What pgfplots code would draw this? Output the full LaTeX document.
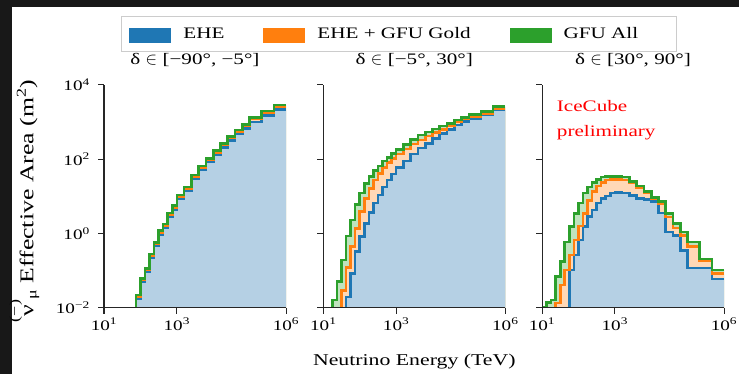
\documentclass[border=0pt]{standalone}
\usepackage{amsmath}
\usepackage{fontspec}
\setmainfont{Liberation Serif}[FakeStretch=1.32]
\usepackage{pgfplots}
\usepackage{pgfplotstable}
\pgfplotsset{compat=1.18}

\definecolor{c0}{RGB}{31,119,180}
\definecolor{c1}{RGB}{255,127,14}
\definecolor{c2}{RGB}{44,160,44}
\definecolor{f0}{RGB}{181,208,228}
\definecolor{f1}{RGB}{255,216,182}
\definecolor{f2}{RGB}{192,227,190}
\definecolor{darkbg}{RGB}{24,24,24}

% Each table: first row closes the filled area at the bottom right,
% second row starts the step at the bottom, then one row per bin (left edge, value),
% last row repeats the last value at 10^6.

% Panel 1: dec in [-90,-5]
\pgfplotstableread{
x y
1000000 0.0001
74.99 0.0001
74.99 0.0224
100 0.0631
133.4 0.117
177.8 0.282
237.1 0.589
316.2 1.20
421.7 1.82
562.3 3.63
749.9 5.62
1000 11.0
1585 18.2
2512 38.0
3981 66.1
6310 107
10000 170
15849 269
25119 407
39811 617
63096 871
100000 1318
215443 1995
464159 2884
1000000 2884
}\tabGa
\pgfplotstableread{
x y
1000000 0.0001
74.99 0.0001
74.99 0.0204
100 0.0575
133.4 0.107
177.8 0.257
237.1 0.537
316.2 1.09
421.7 1.66
562.3 3.31
749.9 5.13
1000 10.0
1585 16.6
2512 34.7
3981 60.3
6310 97.7
10000 155
15849 245
25119 371
39811 562
63096 794
100000 1202
215443 1820
464159 2630
1000000 2630
}\tabOa
\pgfplotstableread{
x y
1000000 0.0001
74.99 0.0001
74.99 0.0178
100 0.0501
133.4 0.093
177.8 0.224
237.1 0.468
316.2 0.95
421.7 1.45
562.3 2.88
749.9 4.46
1000 8.7
1585 14.5
2512 30.2
3981 52.5
6310 85
10000 132
15849 209
25119 316
39811 479
63096 676
100000 1000
215443 1514
464159 2190
1000000 2190
}\tabBa

% Panel 2: dec in [-5,30]
\pgfplotstableread{
x y
1000000 0.0001
17.78 0.0001
17.78 0.0166
23.71 0.0513
31.62 0.195
42.17 0.871
56.23 2.34
74.99 6.03
100 12.3
133.4 22.4
177.8 33.9
237.1 50.1
316.2 66.1
421.7 91.2
562.3 112
749.9 145
1000 186
1585 251
2512 347
3981 447
6310 550
10000 661
15849 794
25119 933
39811 1148
63096 1349
100000 1585
215443 1905
464159 2630
1000000 2630
}\tabGb
\pgfplotstableread{
x y
1000000 0.0001
31.62 0.0001
31.62 0.0295
42.17 0.123
56.23 0.447
74.99 1.38
100 3.89
133.4 8.91
177.8 16.6
237.1 27.5
316.2 41.7
421.7 60.3
562.3 81.3
749.9 107
1000 138
1585 191
2512 257
3981 331
6310 427
10000 525
15849 646
25119 794
39811 1000
63096 1202
100000 1413
215443 1738
464159 2344
1000000 2344
}\tabOb
\pgfplotstableread{
x y
1000000 0.0001
42.17 0.0001
42.17 0.0200
56.23 0.0851
74.99 0.331
100 0.832
133.4 1.91
177.8 3.72
237.1 6.61
316.2 11.0
421.7 17.8
562.3 27.5
749.9 40.7
1000 60.3
1585 91.2
2512 138
3981 200
6310 269
10000 363
15849 501
25119 646
39811 832
63096 1023
100000 1259
215443 1622
464159 2138
1000000 2138
}\tabBb

% Panel 3: dec in [30,90]
\pgfplotstableread{
x y
1000000 0.0001
10 0.0001
10 0.0107
13.34 0.0141
17.78 0.0166
23.71 0.0692
31.62 0.178
42.17 0.603
56.23 1.55
74.99 3.55
100 6.61
133.4 12.3
177.8 18.2
237.1 24.0
316.2 28.8
421.7 33.1
562.3 33.9
749.9 33.9
1000 33.9
1585 33.1
2512 25.1
3981 19.1
6310 13.5
10000 9.55
15849 7.24
25119 3.55
39811 1.91
63096 1.12
100000 0.603
215443 0.209
464159 0.105
1000000 0.105
}\tabGc
\pgfplotstableread{
x y
1000000 0.0001
23.71 0.0001
23.71 0.0135
31.62 0.0417
42.17 0.105
56.23 0.269
74.99 0.676
100 1.62
133.4 3.55
177.8 7.76
237.1 13.5
316.2 19.1
421.7 24.0
562.3 27.5
749.9 28.8
1000 28.8
1585 27.5
2512 22.9
3981 17.4
6310 12.6
10000 8.91
15849 6.31
25119 2.82
39811 1.41
63096 0.891
100000 0.447
215443 0.191
464159 0.0832
1000000 0.0832
}\tabOc
\pgfplotstableread{
x y
1000000 0.0001
56.23 0.0001
56.23 0.105
74.99 0.269
100 0.676
133.4 1.55
177.8 2.88
237.1 4.37
316.2 6.61
421.7 8.91
562.3 10.2
749.9 12.3
1000 12.9
1585 12.3
2512 10.5
3981 8.91
6310 8.32
10000 7.24
15849 3.63
25119 1.12
39811 0.891
63096 0.355
100000 0.120
215443 0.120
464159 0.0603
1000000 0.0603
}\tabBc

\begin{document}
\begin{tikzpicture}
\fill[darkbg] (0pt,0pt) rectangle (12pt,374pt);
\fill[darkbg] (0pt,367pt) rectangle (739pt,374pt);
\path[use as bounding box] (0pt,0pt) rectangle (739pt,374pt);

% ---------- Panel 1 ----------
\begin{loglogaxis}[at={(104pt,66pt)}, anchor=south west,
  scale only axis, width=182pt, height=223pt,
  xmin=10, xmax=1000000, ymin=0.01, ymax=10000,
  axis on top, clip mode=individual,
  axis x line*=bottom, axis y line*=left,
  axis line style={line width=1pt, black!85},
  tick align=outside, major tick length=6pt,
  tick style={line width=1pt, black!85},
  xtick={10,1000,1000000}, xticklabels={,,},
  ytick={0.01,1,100,10000}, yticklabels={,,,},
  title style={at={(0.5,1)}, anchor=base, yshift=14pt, font=\fontsize{16}{18}\selectfont},
  title={δ $\in$ [−90°, −5°]},
  ylabel={$\overset{\text{(−)}}{\text{ν}}_{\text{μ}}$ Effective Area (m\textsuperscript{2})},
  ylabel style={at={(-0.388,0.48)}, anchor=base, font=\fontsize{19.5}{22}\selectfont},
  legend columns=3, legend cell align=left,
  legend image code/.code={\fill[#1] (0pt,-9pt) rectangle (42pt,6pt);},
  legend style={at={(0.0934,1.3094)}, anchor=north west, draw=black!20, line width=0.8pt,
    font=\fontsize{16}{18}\selectfont, inner xsep=8pt, inner ysep=9pt,
    /tikz/every odd column/.append style={column sep=10pt},
    /tikz/every even column/.append style={column sep=37pt}},
]
\addlegendimage{fill=c0, draw=none}
\addlegendentry{EHE}
\addlegendimage{fill=c1, draw=none}
\addlegendentry{EHE + GFU Gold}
\addlegendimage{fill=c2, draw=none}
\addlegendentry{GFU All\hspace*{28pt}}
\addplot[forget plot, draw=none, fill=f2, const plot mark left] table {\tabGa};
\addplot[forget plot, draw=none, fill=f1, const plot mark left] table {\tabOa};
\addplot[forget plot, draw=none, fill=f0, const plot mark left] table {\tabBa};
\addplot[forget plot, draw=c0, line width=2.6pt, const plot mark left, mark=none, skip coords between index={0}{1}] table {\tabBa};
\addplot[forget plot, draw=c1, line width=2.6pt, const plot mark left, mark=none, skip coords between index={0}{1}] table {\tabOa};
\addplot[forget plot, draw=c2, line width=2.6pt, const plot mark left, mark=none, skip coords between index={0}{1}] table {\tabGa};
% tick labels
\node[anchor=north, inner sep=0pt, font=\fontsize{14.5}{16}\selectfont] at (rel axis cs:0,0) [yshift=-10pt] {10\textsuperscript{1}};
\node[anchor=north, inner sep=0pt, font=\fontsize{14.5}{16}\selectfont] at (rel axis cs:0.4,0) [yshift=-10pt] {10\textsuperscript{3}};
\node[anchor=north, inner sep=0pt, font=\fontsize{14.5}{16}\selectfont] at (rel axis cs:1,0) [yshift=-10pt] {10\textsuperscript{6}};
\node[anchor=east, inner sep=0pt, font=\fontsize{14.5}{16}\selectfont] at (rel axis cs:0,0) [xshift=-14pt] {10\textsuperscript{−2}};
\node[anchor=east, inner sep=0pt, font=\fontsize{14.5}{16}\selectfont] at (rel axis cs:0,0.3333) [xshift=-14pt] {10\textsuperscript{0}};
\node[anchor=east, inner sep=0pt, font=\fontsize{14.5}{16}\selectfont] at (rel axis cs:0,0.6667) [xshift=-14pt] {10\textsuperscript{2}};
\node[anchor=east, inner sep=0pt, font=\fontsize{14.5}{16}\selectfont] at (rel axis cs:0,1) [xshift=-14pt] {10\textsuperscript{4}};
\end{loglogaxis}

% ---------- Panel 2 ----------
\begin{loglogaxis}[at={(323.3pt,66pt)}, anchor=south west,
  scale only axis, width=182pt, height=223pt,
  xmin=10, xmax=1000000, ymin=0.01, ymax=10000,
  axis on top, clip mode=individual,
  axis x line*=bottom, axis y line*=left,
  axis line style={line width=1pt, black!85},
  tick align=outside, major tick length=6pt,
  tick style={line width=1pt, black!85},
  xtick={10,1000,1000000}, xticklabels={,,},
  ytick={0.01,1,100,10000}, yticklabels={,,,},
  title style={at={(0.5,1)}, anchor=base, yshift=14pt, font=\fontsize{16}{18}\selectfont},
  title={δ $\in$ [−5°, 30°]},
  xlabel={Neutrino Energy (TeV)},
  xlabel style={at={(0.5,-0.26)}, anchor=base, font=\fontsize{16.5}{18}\selectfont},
]
\addplot[forget plot, draw=none, fill=f2, const plot mark left] table {\tabGb};
\addplot[forget plot, draw=none, fill=f1, const plot mark left] table {\tabOb};
\addplot[forget plot, draw=none, fill=f0, const plot mark left] table {\tabBb};
\addplot[forget plot, draw=c0, line width=2.6pt, const plot mark left, mark=none, skip coords between index={0}{1}] table {\tabBb};
\addplot[forget plot, draw=c1, line width=2.6pt, const plot mark left, mark=none, skip coords between index={0}{1}] table {\tabOb};
\addplot[forget plot, draw=c2, line width=2.6pt, const plot mark left, mark=none, skip coords between index={0}{1}] table {\tabGb};
\node[anchor=north, inner sep=0pt, font=\fontsize{14.5}{16}\selectfont] at (rel axis cs:0,0) [yshift=-10pt] {10\textsuperscript{1}};
\node[anchor=north, inner sep=0pt, font=\fontsize{14.5}{16}\selectfont] at (rel axis cs:0.4,0) [yshift=-10pt] {10\textsuperscript{3}};
\node[anchor=north, inner sep=0pt, font=\fontsize{14.5}{16}\selectfont] at (rel axis cs:1,0) [yshift=-10pt] {10\textsuperscript{6}};
\end{loglogaxis}

% ---------- Panel 3 ----------
\begin{loglogaxis}[at={(542pt,66pt)}, anchor=south west,
  scale only axis, width=182pt, height=223pt,
  xmin=10, xmax=1000000, ymin=0.01, ymax=10000,
  axis on top, clip mode=individual,
  axis x line*=bottom, axis y line*=left,
  axis line style={line width=1pt, black!85},
  tick align=outside, major tick length=6pt,
  tick style={line width=1pt, black!85},
  xtick={10,1000,1000000}, xticklabels={,,},
  ytick={0.01,1,100,10000}, yticklabels={,,,},
  title style={at={(0.5,1)}, anchor=base, yshift=14pt, font=\fontsize{16}{18}\selectfont},
  title={δ $\in$ [30°, 90°]},
]
\addplot[forget plot, draw=none, fill=f2, const plot mark left] table {\tabGc};
\addplot[forget plot, draw=none, fill=f1, const plot mark left] table {\tabOc};
\addplot[forget plot, draw=none, fill=f0, const plot mark left] table {\tabBc};
\addplot[forget plot, draw=c0, line width=2.6pt, const plot mark left, mark=none, skip coords between index={0}{1}] table {\tabBc};
\addplot[forget plot, draw=c1, line width=2.6pt, const plot mark left, mark=none, skip coords between index={0}{1}] table {\tabOc};
\addplot[forget plot, draw=c2, line width=2.6pt, const plot mark left, mark=none, skip coords between index={0}{1}] table {\tabGc};
\node[anchor=north, inner sep=0pt, font=\fontsize{14.5}{16}\selectfont] at (rel axis cs:0,0) [yshift=-10pt] {10\textsuperscript{1}};
\node[anchor=north, inner sep=0pt, font=\fontsize{14.5}{16}\selectfont] at (rel axis cs:0.4,0) [yshift=-10pt] {10\textsuperscript{3}};
\node[anchor=north, inner sep=0pt, font=\fontsize{14.5}{16}\selectfont] at (rel axis cs:1,0) [yshift=-10pt] {10\textsuperscript{6}};
\node[anchor=base west, text=red, inner sep=0pt, font=\fontsize{16}{18}\selectfont] at (rel axis cs:0.081,0.883) {IceCube};
\node[anchor=base west, text=red, inner sep=0pt, font=\fontsize{16}{18}\selectfont] at (rel axis cs:0.081,0.768) {preliminary};
\end{loglogaxis}
\end{tikzpicture}
\end{document}
